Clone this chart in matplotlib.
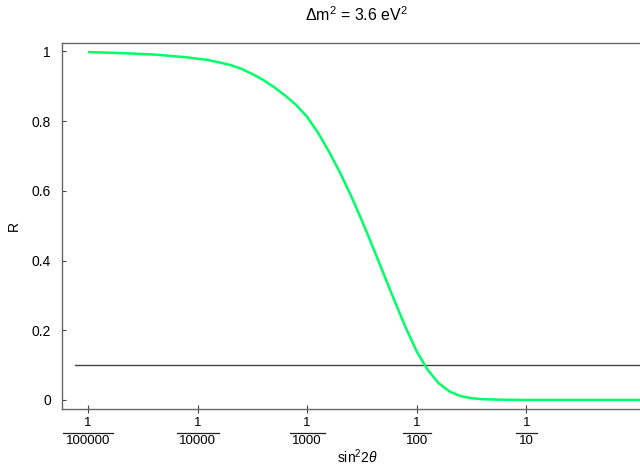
import numpy as np
import matplotlib
matplotlib.use("Agg")
import matplotlib.pyplot as plt
from matplotlib.lines import Line2D

plt.rcParams['font.family'] = ['Liberation Sans', 'DejaVu Sans']
plt.rcParams['mathtext.fontset'] = 'custom'
plt.rcParams['mathtext.rm'] = 'Liberation Sans'
plt.rcParams['mathtext.it'] = 'Liberation Sans:italic'
plt.rcParams['mathtext.sf'] = 'Liberation Sans'

# log10(sin^2 2theta) and ratio R
log_sin2 = [-5.0, -4.7, -4.4, -4.1, -3.9, -3.8, -3.7, -3.6, -3.5, -3.4,
            -3.3, -3.2, -3.1, -3.0, -2.9, -2.8, -2.7, -2.6, -2.5, -2.4,
            -2.3, -2.2, -2.1, -2.0, -1.9, -1.8, -1.7, -1.6, -1.5, -1.4,
            -1.2, -1.0, 0.3]
R = [0.998, 0.995, 0.991, 0.983, 0.975, 0.968, 0.961, 0.950, 0.935, 0.918,
     0.897, 0.873, 0.846, 0.812, 0.766, 0.712, 0.652, 0.586, 0.514, 0.438,
     0.360, 0.282, 0.207, 0.139, 0.086, 0.048, 0.024, 0.011, 0.005, 0.002,
     0.0005, 0.0, 0.0]
sin2 = np.power(10.0, log_sin2)

limit = 0.1
xticks = [1e-5, 1e-4, 1e-3, 1e-2, 1e-1]
xdenoms = ['100000', '10000', '1000', '100', '10']
yticks = [0, 0.2, 0.4, 0.6, 0.8, 1]
yticklabels = ['0', '0.2', '0.4', '0.6', '0.8', '1']

fig = plt.figure(figsize=(6.4, 4.67), dpi=100)
ax = fig.add_axes([62/640, 1 - 409/467, 590/640, (409 - 43)/467])

ax.set_xscale('log')
ax.set_xlim(10**-5.237, 10**(-5.237 + 590/109.6))
ax.set_ylim(-0.026, 1.024)

ax.plot([10**-5.12, 10**0.3], [limit, limit], color='#444444', lw=1.0)
ax.plot(sin2, R, color='#00ff66', lw=1.8, solid_capstyle='butt')

for s in ['left', 'bottom', 'top']:
    ax.spines[s].set_color('#666666')
    ax.spines[s].set_linewidth(1.0)
ax.spines['right'].set_visible(False)

ax.set_xticks(xticks)
ax.set_xticklabels([])
ax.xaxis.set_minor_locator(matplotlib.ticker.NullLocator())
ax.set_yticks(yticks)
ax.set_yticklabels(yticklabels)
ax.tick_params(axis='x', direction='inout', length=6, width=0.8, color='#444444')
ax.tick_params(axis='y', direction='in', length=3, width=0.8, color='#444444',
               labelsize=10, pad=8)
ax.tick_params(top=False, right=False)

# fraction tick labels: 1 over denominator
H = 467
for xt, den in zip(xticks, xdenoms):
    px = ax.transData.transform((xt, 0))[0]
    fig.text(px/640, 1 - 423.5/H, '1', ha='center', va='center', fontsize=9.5)
    fig.text(px/640, 1 - 441.5/H, den, ha='center', va='center', fontsize=9.5)
    half = len(den) * 3.6 + 3
    fig.add_artist(Line2D([(px - half)/640, (px + half)/640], [1 - 432.5/H, 1 - 432.5/H],
                          transform=fig.transFigure, color='#222222', lw=0.9))

fig.text(357/640, 1 - 15/H, r'$\Delta$m$^2$ = 3.6 eV$^2$', ha='center', va='center',
         fontsize=11.5)
fig.text(357/640, 1 - 457/H, r'sin$^2$2$\it{\theta}$', ha='center', va='center',
         fontsize=10)
ax.set_ylabel('R', fontsize=10, labelpad=8)

fig.savefig('out.png', dpi=100)
